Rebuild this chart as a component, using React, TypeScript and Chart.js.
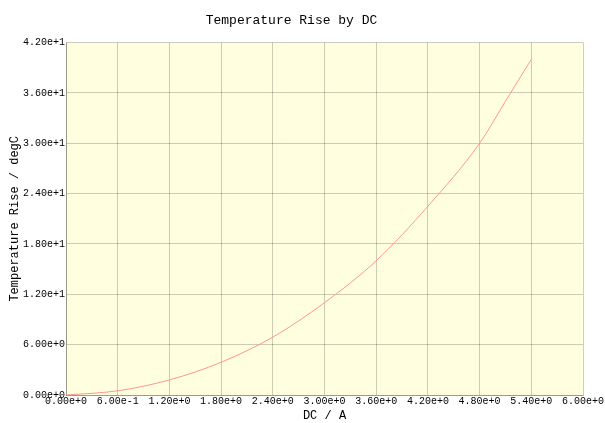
import React, { useEffect, useRef } from "react";
import { Chart, registerables } from "chart.js";

Chart.register(...registerables);

const currentA = [0, 0.6, 1.2, 1.8, 2.4, 3.0, 3.6, 4.2, 4.8, 5.1, 5.4];
const tempRise = [0, 0.5, 1.8, 3.9, 6.9, 11.0, 16.0, 22.5, 30.0, 35.0, 40.0];
const xTicks = [0, 0.6, 1.2, 1.8, 2.4, 3.0, 3.6, 4.2, 4.8, 5.4, 6.0];
const yTicks = [0, 6, 12, 18, 24, 30, 36, 42];

const FONT = "'Liberation Mono', 'DejaVu Sans Mono', monospace";

const plotBg = {
  id: "plotBg",
  beforeDraw(chart: any) {
    const { ctx, chartArea } = chart;
    ctx.save();
    ctx.fillStyle = "#ffffe0";
    ctx.fillRect(chartArea.left, chartArea.top, chartArea.right - chartArea.left, chartArea.bottom - chartArea.top);
    ctx.restore();
  },
};

export default function App() {
  const ref = useRef<HTMLCanvasElement>(null);
  useEffect(() => {
    if (!ref.current) return;
    const chart = new Chart(ref.current, {
      type: "line",
      data: {
        datasets: [
          {
            data: currentA.map((x, i) => ({ x, y: tempRise[i] })),
            borderColor: "rgb(255,150,140)",
            borderWidth: 1,
            pointRadius: 0,
            cubicInterpolationMode: "monotone",
            fill: false,
          },
        ],
      },
      options: {
        animation: false,
        responsive: false,
        maintainAspectRatio: false,
        layout: { padding: { left: 0, right: 22, top: 0, bottom: 0 } },
        plugins: {
          legend: { display: false },
          tooltip: { enabled: false },
          title: {
            display: true,
            text: "Temperature Rise by DC",
            color: "#000",
            font: { family: FONT, size: 13, weight: "normal" },
            padding: { top: 13, bottom: 14 },
          },
        },
        scales: {
          x: {
            type: "linear",
            min: 0,
            max: 6,
            afterBuildTicks: (s: any) => {
              s.ticks = xTicks.map((v) => ({ value: v }));
            },
            afterFit: (s: any) => {
              s.height = 28;
              s.paddingLeft = 0;
              s.paddingRight = 0;
            },
            ticks: {
              autoSkip: false,
              maxRotation: 0,
              padding: 0,
              color: "#000",
              font: { family: FONT, size: 10 },
              callback: (v: any) => Number(v).toExponential(2),
            },
            grid: { color: "rgba(0,0,0,0.2)", drawTicks: false },
            border: { color: "rgba(0,0,0,0.25)" },
            title: {
              display: true,
              text: "DC / A",
              color: "#000",
              font: { family: FONT, size: 12 },
              padding: { top: 2, bottom: 0 },
            },
          },
          y: {
            type: "linear",
            min: 0,
            max: 42,
            afterBuildTicks: (s: any) => {
              s.ticks = yTicks.map((v) => ({ value: v }));
            },
            afterFit: (s: any) => {
              s.width = 66;
              s.paddingTop = 0;
              s.paddingBottom = 0;
            },
            ticks: {
              padding: 1,
              color: "#000",
              font: { family: FONT, size: 10 },
              callback: (v: any) => Number(v).toExponential(2),
            },
            grid: { color: "rgba(0,0,0,0.2)", drawTicks: false },
            border: { color: "rgba(0,0,0,0.25)" },
            title: {
              display: true,
              text: "Temperature Rise / degC",
              color: "#000",
              font: { family: FONT, size: 12 },
              padding: { top: 8, bottom: 0 },
            },
          },
        },
      },
      plugins: [plotBg],
    } as any);
    return () => chart.destroy();
  }, []);
  return (
    <div style={{ position: "absolute", left: 0, top: 0, width: 605, height: 423 }}>
      <canvas ref={ref} width={605} height={423} style={{ width: 605, height: 423 }} />
    </div>
  );
}
